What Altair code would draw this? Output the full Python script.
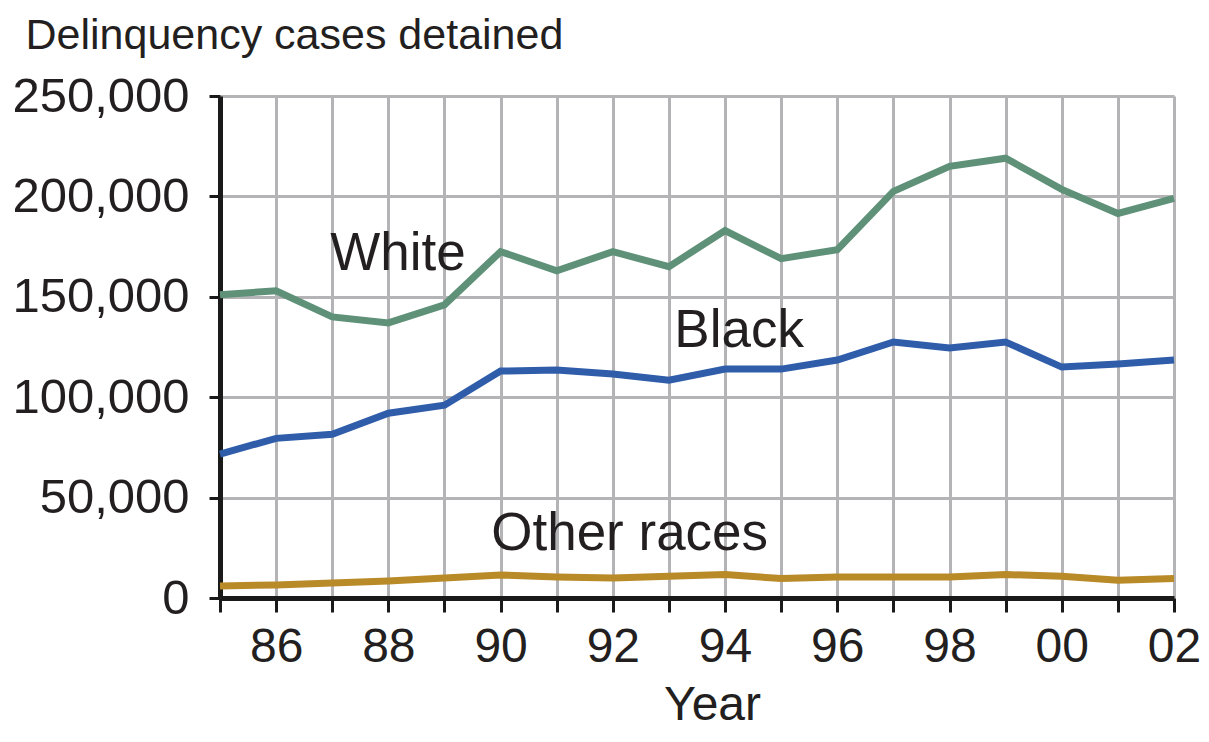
import altair as alt
import pandas as pd

# ---- data ----
years = list(range(1985, 2003))
white = [151000, 153000, 140000, 137000, 146000, 172500, 163000, 172500, 165000,
         183000, 169000, 173500, 202500, 215000, 219000, 203500, 191500, 199000]
black = [71700, 79500, 81500, 92000, 96000, 113000, 113500, 111500, 108500,
         114000, 114000, 118500, 127500, 124500, 127500, 115000, 116500, 118500]
other = [6000, 6500, 7500, 8500, 10000, 11500, 10500, 10000, 10800,
         11700, 9700, 10500, 10500, 10500, 11700, 10800, 8800, 9700]

series_names = ["White", "Black", "Other races"]
series_colors = ["#5f9178", "#2f5daa", "#b98a28"]

y_ticks = [0, 50000, 100000, 150000, 200000, 250000]

# in-chart labels (data coordinates)
label_text = ["White", "Black", "Other races"]
label_year = [1988.17, 1994.25, 1992.3]
label_value = [163500, 125000, 24000]

rows = []
for name, vals in zip(series_names, [white, black, other]):
    for yr, v in zip(years, vals):
        rows.append({"Year": yr, "Cases": v, "Race": name})
df = pd.DataFrame(rows)
labels_df = pd.DataFrame({"text": label_text, "Year": label_year, "Cases": label_value})

FONT = "Liberation Sans"
TXT = "#231f20"

PLOT_W = 954
PLOT_H = 502

x_enc = alt.X(
    "Year:Q",
    scale=alt.Scale(domain=[1985, 2002], nice=False, zero=False),
    axis=alt.Axis(
        values=years,
        labelExpr="datum.value % 2 == 0 ? slice(toString(datum.value), 2) : ''",
        title="Year",
        titleX=492, titleY=121, titleAlign="center", titleBaseline="alphabetic",
        titleFontSize=48, titleFontWeight="normal", titleFont=FONT, titleColor=TXT,
        labelFontSize=48, labelFont=FONT, labelColor=TXT, labelPadding=11,
        labelOverlap=False, labelFlush=False,
        tickSize=14, tickWidth=3, tickColor="#1a1a1a",
        domainColor="#1a1a1a", domainWidth=5,
        grid=True, gridColor="#b4b4b6", gridWidth=3,
    ),
)
y_enc = alt.Y(
    "Cases:Q",
    scale=alt.Scale(domain=[0, 250000], nice=False),
    axis=alt.Axis(
        values=y_ticks, format=",d",
        title="Delinquency cases detained",
        titleAngle=0, titleAlign="left", titleBaseline="alphabetic",
        titleX=-195, titleY=-48,
        titleFontSize=43, titleFontWeight="normal", titleFont=FONT, titleColor=TXT,
        labelFontSize=49, labelFont=FONT, labelColor=TXT, labelPadding=20,
        tickSize=11, tickWidth=3, tickColor="#1a1a1a",
        domainColor="#1a1a1a", domainWidth=5,
        grid=True, gridColor="#b4b4b6", gridWidth=3,
    ),
)

lines = alt.Chart(df).mark_line(strokeWidth=7, strokeCap="butt", strokeJoin="miter").encode(
    x=x_enc,
    y=y_enc,
    color=alt.Color("Race:N", scale=alt.Scale(domain=series_names, range=series_colors), legend=None),
    detail="Race:N",
)

texts = alt.Chart(labels_df).mark_text(
    font=FONT, fontSize=53, color=TXT, align="center", baseline="alphabetic"
).encode(
    x=alt.X("Year:Q"),
    y=alt.Y("Cases:Q"),
    text="text:N",
)

chart = alt.layer(lines, texts).properties(
    width=PLOT_W, height=PLOT_H,
    autosize=alt.AutoSizeParams(type="none"),
    padding={"left": 212, "top": 88, "right": 27, "bottom": 132},
    background="white",
).configure_view(stroke=None)

chart.save("out.html", embed_options={"renderer": "svg", "actions": False})
